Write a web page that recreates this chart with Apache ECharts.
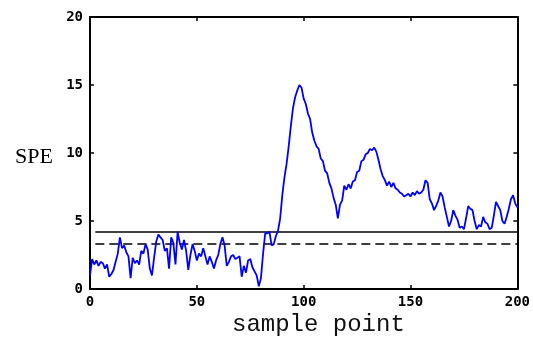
<!DOCTYPE html>
<html>
<head>
<meta charset="utf-8">
<script src="https://cdn.jsdelivr.net/npm/echarts@6/dist/echarts.min.js"></script>
<style>html,body{margin:0;padding:0;background:#fff}#c{width:533px;height:340px}</style>
</head>
<body>
<div id="c"></div>
<script>
// SPE values, sample points 0..200
const speValues = [
1.0,2.2,1.8,2.1,1.7,2.0,1.9,1.5,1.8,0.9,
1.1,1.4,2.0,2.6,3.8,3.0,3.2,2.7,2.4,0.8,
2.3,1.9,2.1,1.8,2.8,2.6,3.3,2.9,1.5,1.0,
2.3,3.5,4.0,3.8,3.6,2.8,3.0,1.5,3.8,3.4,
1.8,4.2,3.4,2.9,3.6,2.8,1.4,2.5,3.3,2.8,
2.1,2.6,2.4,3.0,2.4,1.8,2.4,2.0,1.5,2.1,
2.5,3.3,3.8,3.2,1.7,2.0,2.4,2.5,2.2,2.3,
2.4,0.9,1.7,1.2,2.1,2.2,1.6,1.3,1.0,0.2,
0.8,2.6,4.1,4.1,4.2,3.2,3.3,3.9,4.3,5.2,
6.9,8.2,9.2,10.5,12.0,13.3,14.1,14.6,15.0,14.8,
14.0,13.6,12.9,12.5,11.5,10.9,10.5,10.3,9.6,9.4,
8.7,8.5,7.8,7.4,6.7,6.2,5.2,6.2,6.5,7.6,
7.3,7.7,7.4,7.9,8.0,8.6,8.7,9.4,9.5,9.9,
10.0,10.3,10.2,10.4,10.1,9.5,8.8,8.3,8.0,7.6,
7.9,7.5,7.8,7.4,7.3,7.1,7.0,6.8,6.9,7.0,
6.8,7.1,6.9,7.2,7.0,7.1,7.3,8.0,7.8,6.6,
6.3,5.8,6.1,6.5,7.1,6.8,6.0,5.3,4.6,5.0,
5.8,5.4,5.1,4.5,4.6,4.4,5.2,6.1,5.9,5.8,
5.0,4.4,4.7,4.6,5.3,4.9,4.8,4.4,4.5,5.4,
6.4,6.1,5.8,5.0,4.8,5.3,5.9,6.6,6.9,6.3,
6.0
];
const limitSolid = 4.2;   // upper control limit
const limitDashed = 3.3;  // lower control limit
const limitStart = 2.5;
const limitEnd = 200;
const xTicks = [0, 50, 100, 150, 200];
const yTicks = [0, 5, 10, 15, 20];

const chart = echarts.init(document.getElementById('c'));
const tickFont = {fontFamily: 'DejaVu Sans Mono', fontWeight: 'bold', fontSize: 14, color: '#000'};
const axLine = {show: true, onZero: false, lineStyle: {color: '#000', width: 2}};
const tick = {show: true, inside: true, length: 4, lineStyle: {color: '#000', width: 1.5}};
chart.setOption({
  animation: false,
  grid: {left: 90, right: 13, top: 17, bottom: 51},
  xAxis: [
    {type: 'value', min: xTicks[0], max: xTicks[xTicks.length-1], interval: 50,
     axisLine: axLine, axisTick: tick, splitLine: {show: false},
     axisLabel: Object.assign({margin: 6}, tickFont)},
    {type: 'value', position: 'top', min: 0, max: 200, interval: 50,
     axisLine: axLine, axisTick: tick, splitLine: {show: false}, axisLabel: {show: false}}
  ],
  yAxis: [
    {type: 'value', min: yTicks[0], max: yTicks[yTicks.length-1], interval: 5,
     axisLine: axLine, axisTick: tick, splitLine: {show: false},
     axisLabel: Object.assign({margin: 7}, tickFont)},
    {type: 'value', position: 'right', min: 0, max: 20, interval: 5,
     axisLine: axLine, axisTick: tick, splitLine: {show: false}, axisLabel: {show: false}}
  ],
  graphic: [
    {type: 'text', left: 15, top: 146, style: {text: 'SPE', fontFamily: 'Liberation Serif', fontSize: 22, fill: '#000'}},
    {type: 'text', left: 232, top: 313, style: {text: 'sample point', fontFamily: 'Liberation Mono', fontSize: 24, fill: '#111'}}
  ],
  series: [
    {type: 'line', data: speValues.map((v, i) => [i, v]), showSymbol: false,
     lineStyle: {color: '#0000ff', width: 1.8}, z: 3},
    {type: 'line', data: [[limitStart, limitSolid], [limitEnd, limitSolid]], showSymbol: false,
     lineStyle: {color: '#000', width: 1.5}, z: 2},
    {type: 'line', data: [[limitStart, limitDashed], [limitEnd, limitDashed]], showSymbol: false,
     lineStyle: {color: '#000', width: 1.5, type: [9, 5]}, z: 2}
  ]
});
</script>
</body>
</html>
